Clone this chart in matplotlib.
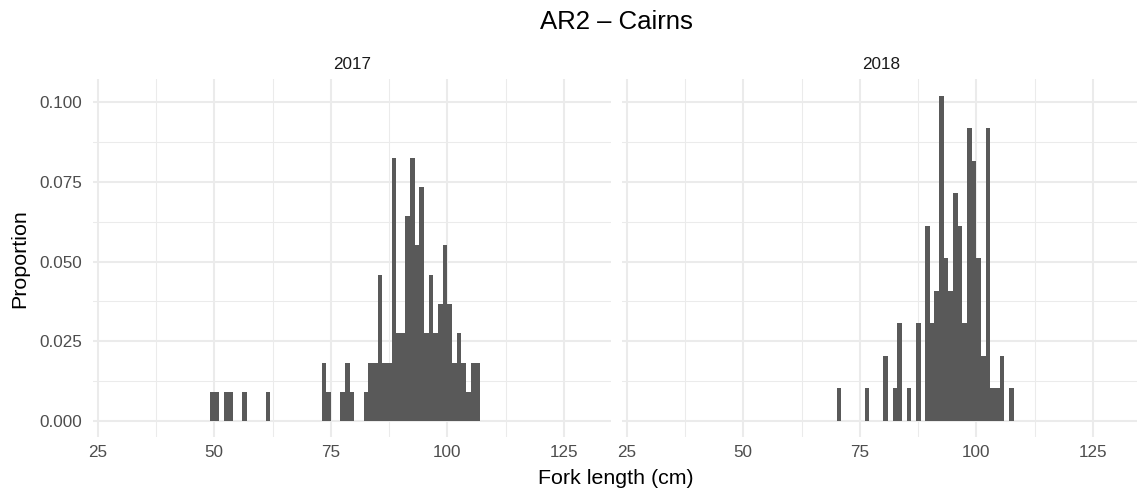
import matplotlib
matplotlib.use("Agg")
import matplotlib.pyplot as plt
import numpy as np

plt.rcParams['font.family'] = ['Liberation Sans', 'DejaVu Sans']

# ---- data (1 cm bins, left edges) ----
years = ["2017", "2018"]
bins_2017 = [49, 50, 52, 53, 56, 61, 73, 74, 77, 78, 79, 82, 83, 84, 85, 86, 87, 88,
             89, 90, 91, 92, 93, 94, 95, 96, 97, 98, 99, 100, 101, 102, 103, 104, 105, 106]
counts_2017 = [1, 1, 1, 1, 1, 1, 2, 1, 1, 2, 1, 1, 2, 2, 5, 2, 2, 9,
               3, 3, 7, 9, 6, 8, 3, 5, 3, 4, 6, 4, 2, 3, 2, 1, 2, 2]
bins_2018 = [70, 76, 80, 82, 83, 85, 87, 89, 90, 91, 92, 93, 94, 95, 96, 97, 98, 99,
             100, 101, 102, 103, 104, 105, 107]
counts_2018 = [1, 1, 2, 1, 3, 1, 3, 6, 3, 4, 10, 5, 4, 7, 6, 3, 9, 8,
               5, 2, 9, 1, 1, 2, 1]
x_ticks = [25, 50, 75, 100, 125]
y_ticks = [0.000, 0.025, 0.050, 0.075, 0.100]
y_tick_labels = ["0.000", "0.025", "0.050", "0.075", "0.100"]

W, H = 1137, 495
fig = plt.figure(figsize=(W / 100, H / 100), dpi=100)
fig.patch.set_facecolor('white')

panel_top, panel_bot = 79.3, 437.3
panel_w = 517.4
lefts = [93.3, 622.3]

series = [(bins_2017, counts_2017), (bins_2018, counts_2018)]
xlim = (24.06, 135.0)
ymax = max(max(np.array(c) / sum(c)) for _, c in series)
ylim = (-0.05 * ymax, 1.05 * ymax)

grid_col = '#EBEBEB'
for i, (b, c) in enumerate(series):
    ax = fig.add_axes([lefts[i] / W, 1 - panel_bot / H, panel_w / W, (panel_bot - panel_top) / H])
    c = np.array(c, dtype=float)
    prop = c / c.sum()
    ax.set_axisbelow(True)
    ax.bar(b, prop, width=1.0, align='edge', color='#595959', linewidth=0)
    ax.set_xlim(*xlim)
    ax.set_ylim(*ylim)
    ax.set_xticks(x_ticks)
    ax.set_xticks([37.5, 62.5, 87.5, 112.5], minor=True)
    ax.set_yticks(y_ticks)
    ax.set_yticks([0.0125, 0.0375, 0.0625, 0.0875], minor=True)
    ax.grid(True, which='major', color=grid_col, linewidth=1.5)
    ax.grid(True, which='minor', color=grid_col, linewidth=0.75)
    for s in ax.spines.values():
        s.set_visible(False)
    ax.tick_params(which='both', length=0)
    ax.tick_params(axis='x', pad=5.6, labelsize=12.3, labelcolor='#4D4D4D')
    ax.tick_params(axis='y', pad=8.1, labelsize=12.3, labelcolor='#4D4D4D')
    if i == 0:
        ax.set_yticklabels(y_tick_labels)
    else:
        ax.set_yticklabels([])
    fig.text((lefts[i] + panel_w / 2) / W, 1 - 69.3 / H, years[i], ha='center',
             va='baseline', fontsize=12.3, color='#1A1A1A')

fig.text(616 / W, 1 - 29 / H, "AR2 – Cairns", ha='center', va='baseline',
         fontsize=18.5, color='black')
fig.text(616 / W, 1 - 484.3 / H, "Fork length (cm)", ha='center', va='baseline',
         fontsize=15.4, color='black')
fig.text(20 / W, 1 - 258.3 / H, "Proportion", ha='center', va='center',
         rotation=90, fontsize=15.4, color='black')

fig.savefig("out.png", dpi=100, facecolor='white')
